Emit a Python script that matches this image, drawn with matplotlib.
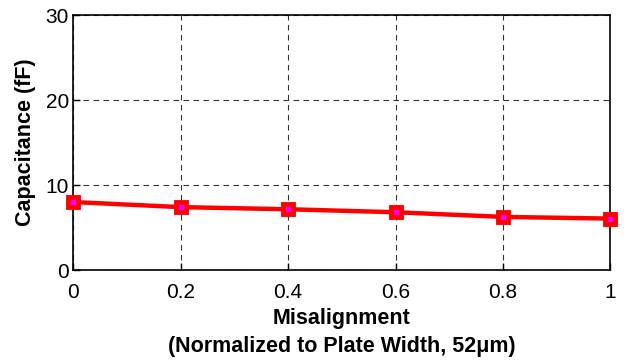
import matplotlib
matplotlib.use("Agg")
import matplotlib.pyplot as plt

misalignment = [0, 0.2, 0.4, 0.6, 0.8, 1.0]
capacitance = [8.0, 7.4, 7.15, 6.8, 6.25, 6.05]
x_ticks = [0, 0.2, 0.4, 0.6, 0.8, 1]
x_tick_labels = ["0", "0.2", "0.4", "0.6", "0.8", "1"]
y_ticks = [0, 10, 20, 30]

plt.rcParams['font.family'] = ['Liberation Sans', 'DejaVu Sans']

fig = plt.figure(figsize=(6.3, 3.6), dpi=100)
ax = fig.add_axes([0.116, 0.25, 0.853, 0.708])

ax.plot(misalignment, capacitance, color='#ff0000', lw=3.2,
        marker='s', markersize=7, markerfacecolor='#ff00ff',
        markeredgecolor='#ff0000', markeredgewidth=3.5, clip_on=False, zorder=3)

ax.set_xlim(0, 1)
ax.set_ylim(0, 30)
ax.set_xticks(x_ticks)
ax.set_xticklabels(x_tick_labels)
ax.set_yticks(y_ticks)
ax.tick_params(direction='in', labelsize=15, length=5, width=1,
               top=False, right=False)
ax.tick_params(axis='x', pad=9)
ax.tick_params(axis='y', pad=3)
ax.grid(True, color='#333333', linestyle=(0, (5, 4)), linewidth=0.8)
for s in ax.spines.values():
    s.set_linewidth(1.2)

ax.set_ylabel('Capacitance (fF)', fontsize=15.5, fontweight='bold', labelpad=7)
ax.set_xlabel('Misalignment\n(Normalized to Plate Width, 52\u03bcm)',
              fontsize=15.5, fontweight='bold', labelpad=5, linespacing=1.4)

fig.savefig('out.png', dpi=100)
